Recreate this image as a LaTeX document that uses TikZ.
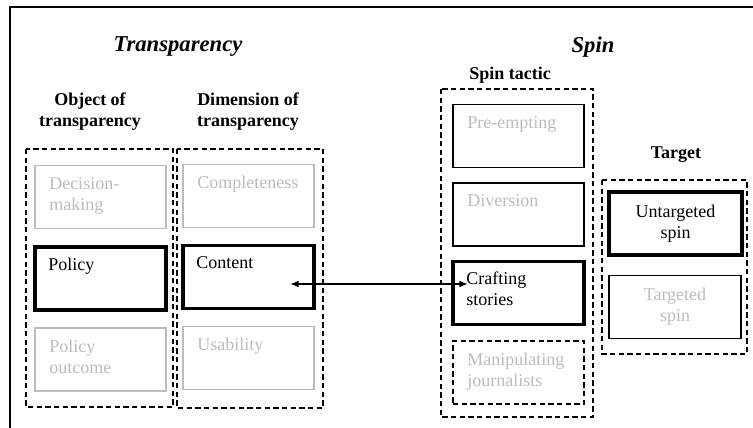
\documentclass[tikz,border=0pt]{standalone}
\usepackage{fontspec}
\setmainfont{Liberation Serif}
\usepackage{xcolor}
\usepackage{tikz}
\usetikzlibrary{arrows.meta}
\definecolor{faded}{RGB}{188,188,188}
\tikzset{
  box/.style={draw, line width=1pt, minimum width=98.25pt, minimum height=47.25pt, inner sep=0pt},
  thickbox/.style={box, line width=2.4pt},
  palebox/.style={box, draw=faded},
  inner/.style={anchor=north west, align=left, inner sep=0pt, xshift=11pt, yshift=-9pt},
  group/.style={dashed, dash pattern=on 4pt off 2.5pt, line width=0.9pt},
  head/.style={font=\bfseries\fontsize{13.5}{15.75}\selectfont, align=center},
}
\begin{document}
\begin{tikzpicture}[x=0.75pt, y=-0.75pt, font=\fontsize{13.5}{15.75}\selectfont]
		\useasboundingbox (0,0) rectangle (753,428);
		% Rahmen
		\draw[line width=1.1pt] (10,428) -- (10,7) -- (753,7);
		% Titel
		\node (ttrans) at (178,47) {\fontsize{17}{20}\selectfont\bfseries\itshape Transparency};
		\node (tspin) at (593,47) {\fontsize{17}{20}\selectfont\bfseries\itshape Spin};
		\node[head] (hobj) at (90,112) {Object of\\transparency};
		\node[head] (hdim) at (248,112) {Dimension of\\transparency};
		\node[head] (htac) at (510,75) {Spin tactic};
		\node[head] (htar) at (676,155) {Target};
		% gestrichelte Gruppen
		\draw[group] (26,149) rectangle (173,407);
		\draw[group] (177,149) rectangle (323,408);
		\draw[group] (441,89) rectangle (593,417);
		\draw[group] (602,180) rectangle (747,354);
		% Objekt
		\node[palebox, label={[inner, faded]north west:Decision-\\making}] (dec) at (100.5,197) {};
		\node[thickbox, label={[inner]north west:Policy}] (pol) at (100.5,278.5) {};
		\node[palebox, label={[inner, faded]north west:Policy\\outcome}] (out) at (100.5,359.5) {};
		% Dimension
		\node[palebox, label={[inner, faded]north west:Completeness}] (com) at (248.5,196) {};
		\node[thickbox, label={[inner]north west:Content}] (con) at (248.5,277) {};
		\node[palebox, label={[inner, faded]north west:Usability}] (usa) at (248.5,358) {};
		% Taktik
		\node[box, label={[inner, faded]north west:Pre-empting}] (pre) at (518.5,136) {};
		\node[box, label={[inner, faded]north west:Diversion}] (div) at (518.5,214.5) {};
		\node[thickbox, label={[inner]north west:Crafting\\stories}] (cra) at (518.5,293) {};
		\node[box, group, label={[inner, faded]north west:Manipulating\\journalists}] (man) at (518.5,372.5) {};
		% Ziel
		\node[thickbox, minimum width=99.75pt, align=center] (unt) at (675.5,223.5) {Untargeted\\spin};
		\node[box, minimum width=99pt, align=center, text=faded] (tar) at (675,307) {Targeted\\spin};
		% Pfeil
		\coordinate (arrL) at (290,284);
		\coordinate (arrR) at (468,284);
		\draw[{Latex[length=6.5pt,width=5pt]}-{Latex[length=6.5pt,width=5pt]}, line width=0.9pt] (arrL) -- (arrR);
	\end{tikzpicture}
\end{document}
